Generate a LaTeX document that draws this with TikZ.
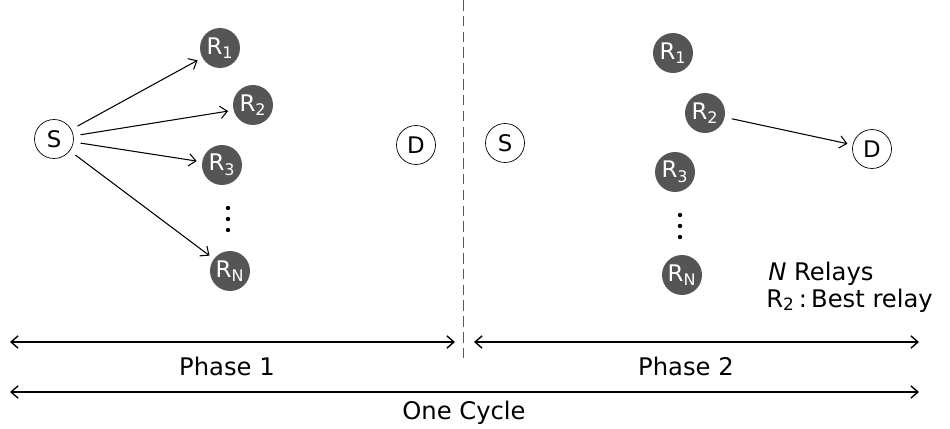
\documentclass[tikz,border=0pt]{standalone}
\usepackage{fontspec}
\setmainfont{DejaVu Sans}
\usepackage{tikz}
\usetikzlibrary{arrows.meta,positioning}
\definecolor{RelayGray}{RGB}{85,85,85}
\tikzset{
  terminal/.style={circle,draw,thin,minimum size=0.78cm,inner sep=0pt,font=\fontsize{13}{15}\selectfont},
  relay/.style={circle,fill=RelayGray,text=white,minimum size=0.8cm,inner sep=0pt,font=\fontsize{13}{15}\selectfont},
  link/.style={-{Straight Barb[length=4pt,width=7pt]},semithick,shorten <=4pt,shorten >=3pt},
  span/.style={{Straight Barb[length=4pt,width=7pt]}-{Straight Barb[length=4pt,width=7pt]},thick},
  lbl/.style={font=\fontsize{13.8}{16}\selectfont}
}
\begin{document}
\begin{tikzpicture}[x=0.02cm,y=-0.02cm]
\useasboundingbox (0,0) rectangle (950,429);
%
% phase 1
\node[terminal] (srcA) at (54,139) {S};
\node[relay] (relA1) at (220,48) {R\textsubscript{1}};
\node[relay] (relA2) at (253,105) {R\textsubscript{2}};
\node[relay] (relA3) at (222,165) {R\textsubscript{3}};
\node[relay] (relAN) at (230,271) {R\textsubscript{N}};
\node[terminal] (dstA) at (416,145) {D};
\foreach \y in {208,219,230} \fill (228,\y) circle (2.2);
\draw[link] (srcA) -- (relA1);
\draw[link] (srcA) -- (relA2.195);
\draw[link] (srcA) -- (relA3);
\draw[link] (srcA) -- (relAN);
%
% separator
\coordinate (sepTop) at (463,0);
\coordinate (sepBot) at (463,358);
\draw[gray!70!black,dash pattern=on 6pt off 3pt] (sepTop) -- (sepBot);
%
% phase 2
\node[terminal] (srcB) at (505,143) {S};
\node[relay] (relB1) at (673,53) {R\textsubscript{1}};
\node[relay] (relB2) at (705,113) {R\textsubscript{2}};
\node[relay] (relB3) at (675,172) {R\textsubscript{3}};
\node[relay] (relBN) at (682,275) {R\textsubscript{N}};
\node[terminal] (dstB) at (872,149) {D};
\foreach \y in {215,226,237} \fill (680,\y) circle (2.2);
\draw[link] (relB2) -- (dstB);
\node[lbl,anchor=base west,inner sep=0pt] (noteA) at (768,280) {\textit{N} Relays};
\node[lbl,anchor=base west,inner sep=0pt] (noteB) at (766,307) {R\textsubscript{2}\,:\,Best relay};
%
% durations
\coordinate (pA0) at (10,342);
\coordinate (pA1) at (455,342);
\coordinate (pB0) at (474,342);
\coordinate (pB1) at (919,342);
\coordinate (cy0) at (10,392);
\coordinate (cy1) at (919,392);
\draw[span] (pA0) -- (pA1);
\draw[span] (pB0) -- (pB1);
\draw[span] (cy0) -- (cy1);
\node[lbl] (phA) at (227,366) {Phase 1};
\node[lbl] (phB) at (686,366) {Phase 2};
\node[lbl] (cyc) at (464,413) {One Cycle};
%
\end{tikzpicture}
\end{document}
